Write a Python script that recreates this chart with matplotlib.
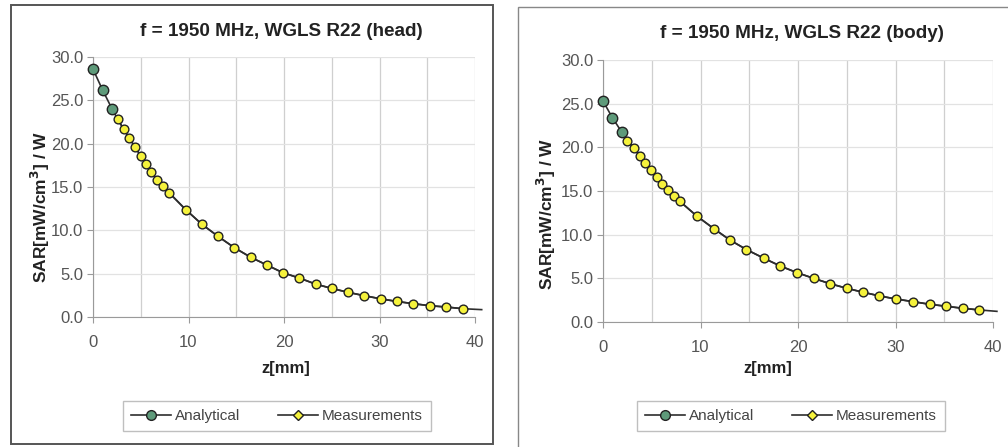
import matplotlib.pyplot as plt
from matplotlib.patches import Rectangle
from matplotlib.lines import Line2D
import numpy as np

plt.rcParams["font.family"] = ["Liberation Sans", "DejaVu Sans"]
plt.rcParams["font.size"] = 11

# head tissue
head_ana_z = [0.0, 1.0, 2.0, 2.6, 3.2, 3.8, 4.4, 5.0, 5.6, 6.1, 6.7, 7.3, 8.0, 9.7, 11.4,
              13.1, 14.8, 16.5, 18.2, 19.9, 21.6, 23.3, 25.0, 26.7, 28.4, 30.2, 31.8,
              33.5, 35.3, 37.0, 38.7, 40.7]
head_ana_sar = [28.6, 26.2, 24.0, 22.8, 21.7, 20.65, 19.6, 18.6, 17.6, 16.7, 15.85, 15.1,
                14.3, 12.4, 10.7, 9.3, 8.0, 6.9, 6.0, 5.1, 4.5, 3.8, 3.3, 2.85, 2.46, 2.08,
                1.8, 1.54, 1.3, 1.15, 0.96, 0.85]
head_meas_z = [2.6, 3.2, 3.8, 4.4, 5.0, 5.6, 6.1, 6.7, 7.3, 8.0, 9.7, 11.4, 13.1, 14.8,
               16.5, 18.2, 19.9, 21.6, 23.3, 25.0, 26.7, 28.4, 30.2, 31.8, 33.5, 35.3,
               37.0, 38.7]
head_meas_sar = [22.8, 21.7, 20.65, 19.6, 18.6, 17.6, 16.7, 15.85, 15.1, 14.3, 12.4, 10.7,
                 9.3, 8.0, 6.9, 6.0, 5.1, 4.5, 3.8, 3.3, 2.85, 2.46, 2.08, 1.8, 1.54, 1.3,
                 1.15, 0.96]

# body tissue
body_ana_z = [0.0, 0.96, 1.95, 2.5, 3.2, 3.76, 4.34, 4.96, 5.5, 6.1, 6.7, 7.3, 7.9, 9.6,
              11.35, 13.0, 14.7, 16.5, 18.2, 19.9, 21.6, 23.25, 25.0, 26.7, 28.3, 30.0,
              31.8, 33.5, 35.2, 36.9, 38.6, 40.4]
body_ana_sar = [25.3, 23.4, 21.7, 20.75, 19.9, 19.0, 18.15, 17.35, 16.55, 15.8, 15.1,
                14.45, 13.8, 12.15, 10.7, 9.4, 8.3, 7.3, 6.4, 5.65, 5.0, 4.4, 3.86, 3.4,
                3.0, 2.64, 2.33, 2.03, 1.8, 1.57, 1.38, 1.22]
body_meas_z = [2.5, 3.2, 3.76, 4.34, 4.96, 5.5, 6.1, 6.7, 7.3, 7.9, 9.6, 11.35, 13.0,
               14.7, 16.5, 18.2, 19.9, 21.6, 23.25, 25.0, 26.7, 28.3, 30.0, 31.8, 33.5,
               35.2, 36.9, 38.6]
body_meas_sar = [20.75, 19.9, 19.0, 18.15, 17.35, 16.55, 15.8, 15.1, 14.45, 13.8, 12.15,
                 10.7, 9.4, 8.3, 7.3, 6.4, 5.65, 5.0, 4.4, 3.86, 3.4, 3.0, 2.64, 2.33,
                 2.03, 1.8, 1.57, 1.38]

green = "#5e9a7a"
yellow = "#f5f23c"
line_c = "#2e2e2e"
text_c = "#222222"
tick_c = "#555555"

fig = plt.figure(figsize=(10.08, 4.47), dpi=100)
W, H = 1008, 447

# outer frames of the two chart objects
fig.patches.append(Rectangle((11 / W, 1 - 444 / H), 482 / W, 439 / H, transform=fig.transFigure,
                             fill=False, edgecolor="#555555", linewidth=1.4))
fig.patches.append(Rectangle((518 / W, 1 - 452 / H), 500 / W, 445 / H, transform=fig.transFigure,
                             fill=False, edgecolor="#888888", linewidth=1.0))


def draw_panel(rect, title, title_xy, az, asar, mz, msar, ylab_xy, xlab_xy, xpad, leg_xy):
    ax = fig.add_axes(rect)
    ax.plot(az, asar, "-", color=line_c, lw=1.2, marker="o", markevery=[0, 1, 2],
            markersize=7.5, markerfacecolor=green, markeredgecolor="#222222",
            markeredgewidth=1.0, clip_on=False, zorder=3)
    ax.plot(mz, msar, "-", color=line_c, lw=1.2, marker="o", markersize=6.3,
            markerfacecolor=yellow, markeredgecolor="#222222", markeredgewidth=1.0,
            clip_on=False, zorder=4)
    ax.set_xlim(0, 40)
    ax.set_ylim(0, 30)
    ax.set_xticks(np.arange(0, 41, 10))
    ax.set_xticks(np.arange(0, 41, 5), minor=True)
    ax.set_yticks(np.arange(0, 31, 5))
    ax.set_yticklabels(["%.1f" % v for v in np.arange(0, 31, 5)])
    ax.grid(True, which="both", axis="x", color="#cfcfcf", lw=0.9)
    ax.grid(True, axis="y", color="#e2e2e2", lw=0.9)
    ax.set_axisbelow(True)
    for s in ["top", "right"]:
        ax.spines[s].set_visible(False)
    for s in ["left", "bottom"]:
        ax.spines[s].set_color("#9a9a9a")
    ax.tick_params(which="major", length=4, color="#9a9a9a", labelcolor=tick_c,
                   labelsize=12)
    ax.tick_params(axis="x", pad=xpad)
    ax.tick_params(axis="y", pad=3)
    ax.tick_params(which="minor", length=0)
    fig.text(title_xy[0] / W, 1 - title_xy[1] / H, title, ha="center", va="center",
             fontweight="bold", fontsize=13.6, color=text_c)
    ax.set_xlabel("z[mm]", fontweight="bold", fontsize=12, color=text_c)
    ax.set_ylabel("SAR[mW/cm$^\\mathbf{3}$] / W", fontweight="bold", fontsize=12.5,
                  color=text_c)
    ax.yaxis.set_label_coords(*ylab_xy)
    ax.xaxis.set_label_coords(*xlab_xy)
    handles = [
        Line2D([], [], color=line_c, lw=1.2, marker="o", markersize=7,
               markerfacecolor=green, markeredgecolor="#222222"),
        Line2D([], [], color=line_c, lw=1.2, marker="D", markersize=5,
               markerfacecolor=yellow, markeredgecolor="#222222"),
    ]
    fig.legend(handles, ["Analytical", "Measurements"], loc="center",
               bbox_to_anchor=(leg_xy[0] / W, 1 - leg_xy[1] / H), ncol=2, frameon=True,
               fancybox=False, edgecolor="#b0b0b0", fontsize=11, handlelength=2.6,
               handletextpad=0.25, columnspacing=2.5, borderpad=0.55, borderaxespad=0,
               labelcolor="#444444")
    return ax


draw_panel([93 / W, 1 - 317 / H, 382 / W, 260 / H], "f = 1950 MHz, WGLS R22 (head)", (281, 31),
           head_ana_z, head_ana_sar, head_meas_z, head_meas_sar,
           (-0.107, 0.423), (0.505, -0.169), 9, (277, 416))
draw_panel([603 / W, 1 - 322 / H, 390 / W, 262 / H], "f = 1950 MHz, WGLS R22 (body)", (802, 33),
           body_ana_z, body_ana_sar, body_meas_z, body_meas_sar,
           (-0.116, 0.412), (0.423, -0.149), 9, (791, 416))

fig.savefig("out.png", dpi=100)
